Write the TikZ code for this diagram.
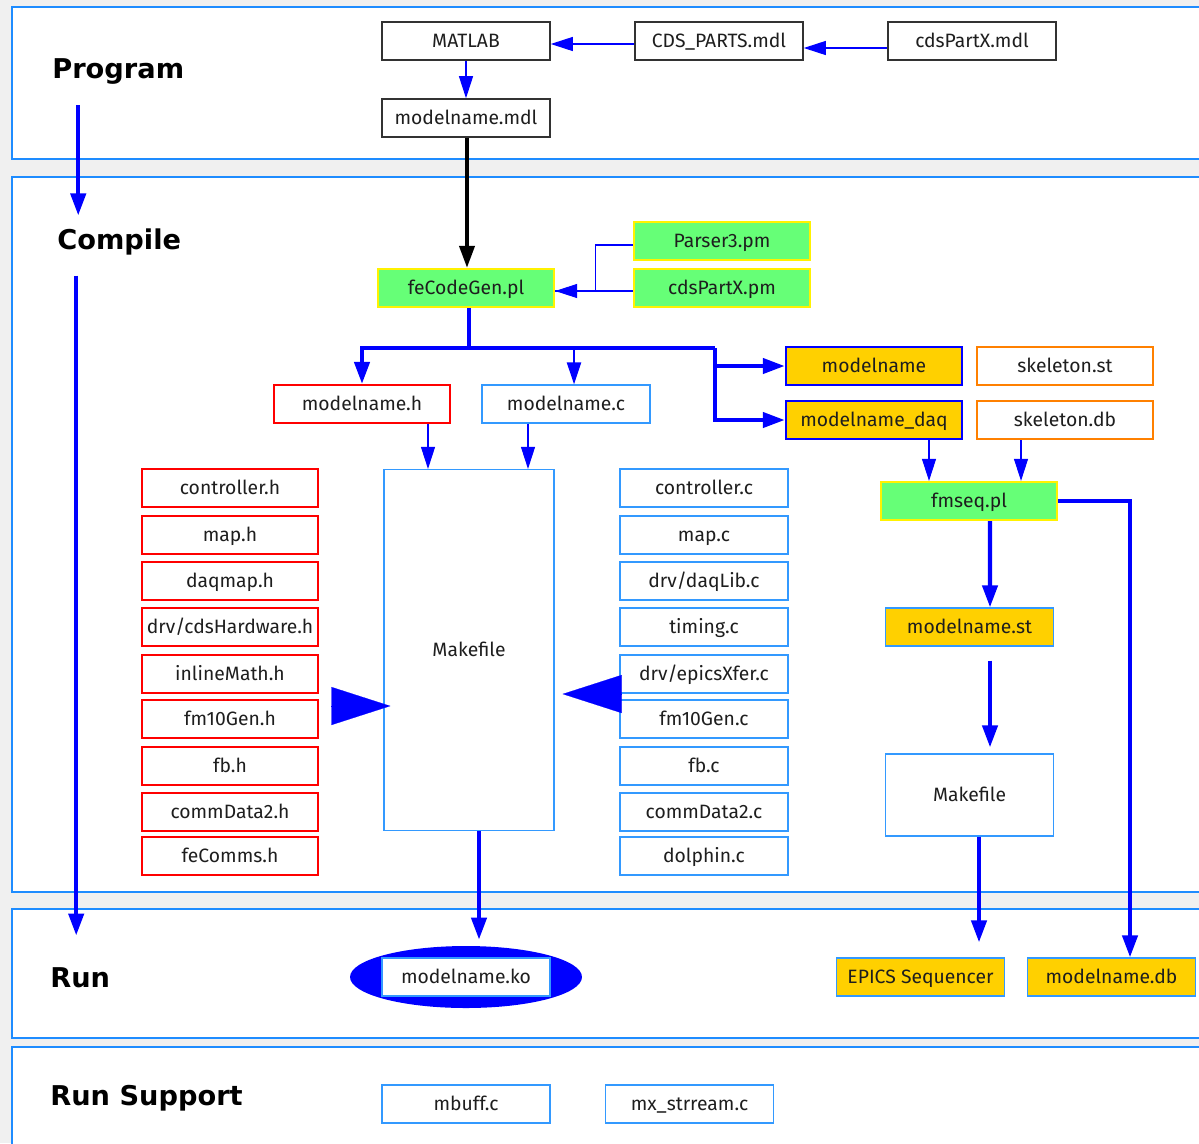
\documentclass[tikz,border=0pt]{standalone}
\usepackage{fontspec}
\setmainfont{Fira Sans}
\newfontfamily\labelfont{DejaVu Sans}
\usetikzlibrary{calc, shapes.geometric, positioning, arrows.meta}

\definecolor{bggray}{RGB}{240,240,240}
\definecolor{panelblue}{RGB}{30,140,255}
\definecolor{cblue}{RGB}{51,153,255}
\definecolor{boxgray}{RGB}{50,50,50}
\definecolor{textgray}{RGB}{30,30,30}
\definecolor{perlgreen}{RGB}{102,255,119}
\definecolor{gold}{RGB}{255,208,0}
\definecolor{skelorange}{RGB}{255,128,0}

\tikzset{
  file/.style={draw, rectangle, minimum width=3.36cm, minimum height=0.76cm, inner sep=0pt,
    text height=9pt, text depth=1.2pt, font=\fontsize{11}{13}\selectfont, text=textgray},
  mdlfile/.style={file, draw=boxgray, line width=0.9pt},
  hfile/.style={file, draw=red, line width=1.2pt, minimum width=3.52cm},
  cfile/.style={file, draw=cblue, line width=0.7pt},
  perlfile/.style={file, fill=perlgreen, draw=yellow, line width=1.3pt, minimum width=3.52cm},
  genfile/.style={file, fill=gold, draw=blue, line width=1.4pt, minimum width=3.52cm},
  outfile/.style={file, fill=gold, draw=cblue, line width=0.7pt},
  skelfile/.style={file, draw=skelorange, line width=1.2pt, minimum width=3.52cm},
  stage/.style={font=\labelfont\bfseries\fontsize{15.5}{18}\selectfont, anchor=west, inner sep=0pt},
  panel/.style={draw=panelblue, fill=white, line width=1.2pt},
  thinline/.style={draw=blue, line width=0.6pt},
  thinarrow/.style={thinline, -{Triangle[length=0.44cm,width=0.28cm]}},
  thickarrow/.style={draw=blue, line width=2.4pt, -{Triangle[length=0.44cm,width=0.3cm]}},
  blackarrow/.style={draw=black, line width=2.2pt, -{Triangle[length=0.44cm,width=0.3cm]}},
  bigarrow/.style={draw=blue, line width=0.1pt, -{Triangle[length=1.18cm,width=0.76cm]}}
}

\begin{document}
\begin{tikzpicture}[x=0.02cm, y=-0.02cm]
\useasboundingbox (0,0) rectangle (1199,1143);
\fill[bggray] (0,0) rectangle (1199,1143);

% stages
\draw[panel] (12,7) rectangle (1215,159);
\draw[panel] (12,177) rectangle (1215,892);
\draw[panel] (12,909) rectangle (1215,1038);
\draw[panel] (12,1047) rectangle (1215,1160);

\node[stage] (prog) at (52,72) {Program};
\node[stage] (comp) at (57,242) {Compile};
\node[stage] (run) at (50,978) {Run};
\node[stage] (runsup) at (50,1098) {Run Support};

\coordinate (p1) at ($(prog.south)+(-40,20)$);
\coordinate (c1) at ($(comp.south)+(-43,20)$);
\draw[thickarrow] (p1) -- ($(p1 |- comp.north)+(0,-13)$);
\draw[thickarrow] (c1) -- ($(c1 |- run.north)+(0,-32)$);

% program
\node[mdlfile] (matlab) at (466,41) {MATLAB};
\node[mdlfile] (cdsparts) at (719,41) {CDS\_PARTS.mdl};
\node[mdlfile] (partxmdl) at (972,41) {cdsPartX.mdl};
\node[mdlfile] (mdl) at (466,118) {modelname.mdl};

\draw[thinarrow] ($(cdsparts.west)+(0,3)$) -- ($(matlab.east)+(0,3)$);
\draw[thinarrow] ($(partxmdl.west)+(0,7)$) -- ($(cdsparts.east)+(0,7)$);
\draw[thinarrow] (matlab) -- (mdl);

% compile
\node[perlfile] (fecode) at (466,288) {feCodeGen.pl};
\node[perlfile] (parser) at (722,241) {Parser3.pm};
\node[perlfile] (partxpm) at (722,288) {cdsPartX.pm};

\draw[blackarrow] ($(mdl.south)+(1,0)$) -- ($(fecode.north)+(1,0)$);
\draw[thinarrow] ($(parser.west)+(0,4)$) -- ++(-37,0) |- ($(fecode.east)+(0,3)$);
\draw[thinline] ($(partxpm.west)+(0,3)$) -- ($(fecode.east)+(0,3)$);

\node[hfile] (mh) at (362,404) {modelname.h};
\node[cfile] (mc) at (566,404) {modelname.c};
\node[genfile] (mn) at (874,366) {modelname};
\node[genfile] (mdaq) at (874,420) {modelname\_daq};
\node[skelfile] (skst) at (1065,366) {skeleton.st};
\node[skelfile] (skdb) at (1065,420) {skeleton.db};

\coordinate (split) at (469,348);
\coordinate (bus) at (715,348);
\draw[draw=blue, line width=2.4pt] ($(fecode.south)+(3,0)$) -- (split);
\draw[thickarrow] (bus) -- (split) -| (mh.north);
\draw[thinarrow, line width=1.2pt] (split -| 574,0) -- ($(mc.north)+(8,0)$);
\draw[thickarrow] (bus) |- (mn.west);
\draw[thickarrow] (bus) |- (mdaq.west);

\node[cfile, minimum width=3.4cm, minimum height=7.22cm] (mk) at (469,650) {Makefile};

\node[hfile] (ctrlh) at (230,488) {controller.h};
\node[hfile] (maph) at (230,535) {map.h};
\node[hfile] (daqmaph) at (230,581) {daqmap.h};
\node[hfile] (hwh) at (230,627) {drv/cdsHardware.h};
\node[hfile] (mathh) at (230,674) {inlineMath.h};
\node[hfile] (fmh) at (230,719) {fm10Gen.h};
\node[hfile] (fbh) at (230,766) {fb.h};
\node[hfile] (commh) at (230,812) {commData2.h};
\node[hfile] (fecommh) at (230,856) {feComms.h};

\node[cfile] (ctrlc) at (704,488) {controller.c};
\node[cfile] (mapc) at (704,535) {map.c};
\node[cfile] (daqlibc) at (704,581) {drv/daqLib.c};
\node[cfile] (timingc) at (704,627) {timing.c};
\node[cfile] (xferc) at (704,674) {drv/epicsXfer.c};
\node[cfile] (fmc) at (704,719) {fm10Gen.c};
\node[cfile] (fbc) at (704,766) {fb.c};
\node[cfile] (commc) at (704,812) {commData2.c};
\node[cfile] (dolphinc) at (704,856) {dolphin.c};

\draw[thinarrow] ($(mh.south)+(66,0)$) -- ($(mk.north)+(-41,0)$);
\draw[thinarrow] ($(mc.south)+(-38,0)$) -- ($(mk.north)+(59,0)$);

\coordinate (hin) at (332,706);
\coordinate (cin) at (621,694);
\draw[bigarrow] (hin) -- ($(hin -| mk.west)+(7,0)$);
\draw[bigarrow] (cin) -- ($(cin -| mk.east)+(8,0)$);

\node[perlfile] (fmseq) at (969,501) {fmseq.pl};
\node[outfile] (mst) at (969.5,627) {modelname.st};
\node[cfile, minimum height=1.64cm] (mk2) at (969.5,795) {Makefile};

\draw[thinarrow] ($(mdaq.south)+(55,0)$) -- ($(fmseq.north)+(-40,0)$);
\draw[thinarrow] ($(skdb.south)+(-44,0)$) -- ($(fmseq.north)+(52,0)$);
\draw[thickarrow] ($(fmseq.south)+(21,0)$) -- ($(mst.north)+(20.5,0)$);
\draw[thickarrow, shorten <=0.28cm, shorten >=0.12cm] ($(mst.south)+(20.5,0)$) -- ($(mk2.north)+(20.5,0)$);

% run
\node[ellipse, fill=blue, minimum width=4.64cm, minimum height=1.24cm] (koring) at (466,977) {};
\node[cfile, fill=white] (ko) at (466,977) {modelname.ko};
\node[outfile] (epics) at (920.5,977) {EPICS Sequencer};
\node[outfile] (mdb) at (1111.5,977) {modelname.db};

\draw[thickarrow, shorten >=0.12cm] ($(mk.south)+(10,0)$) -- ($(koring.north)+(13,0)$);
\draw[thickarrow, shorten >=0.3cm] ($(mk2.south)+(9.5,0)$) -- ($(epics.north)+(58.5,0)$);
\draw[thickarrow] (fmseq.east) -| ($(mdb.north)+(18.5,0)$);

% run support
\node[cfile] (mbuff) at (466,1104) {mbuff.c};
\node[cfile] (mx) at (689.5,1104) {mx\_strream.c};
\end{tikzpicture}
\end{document}
